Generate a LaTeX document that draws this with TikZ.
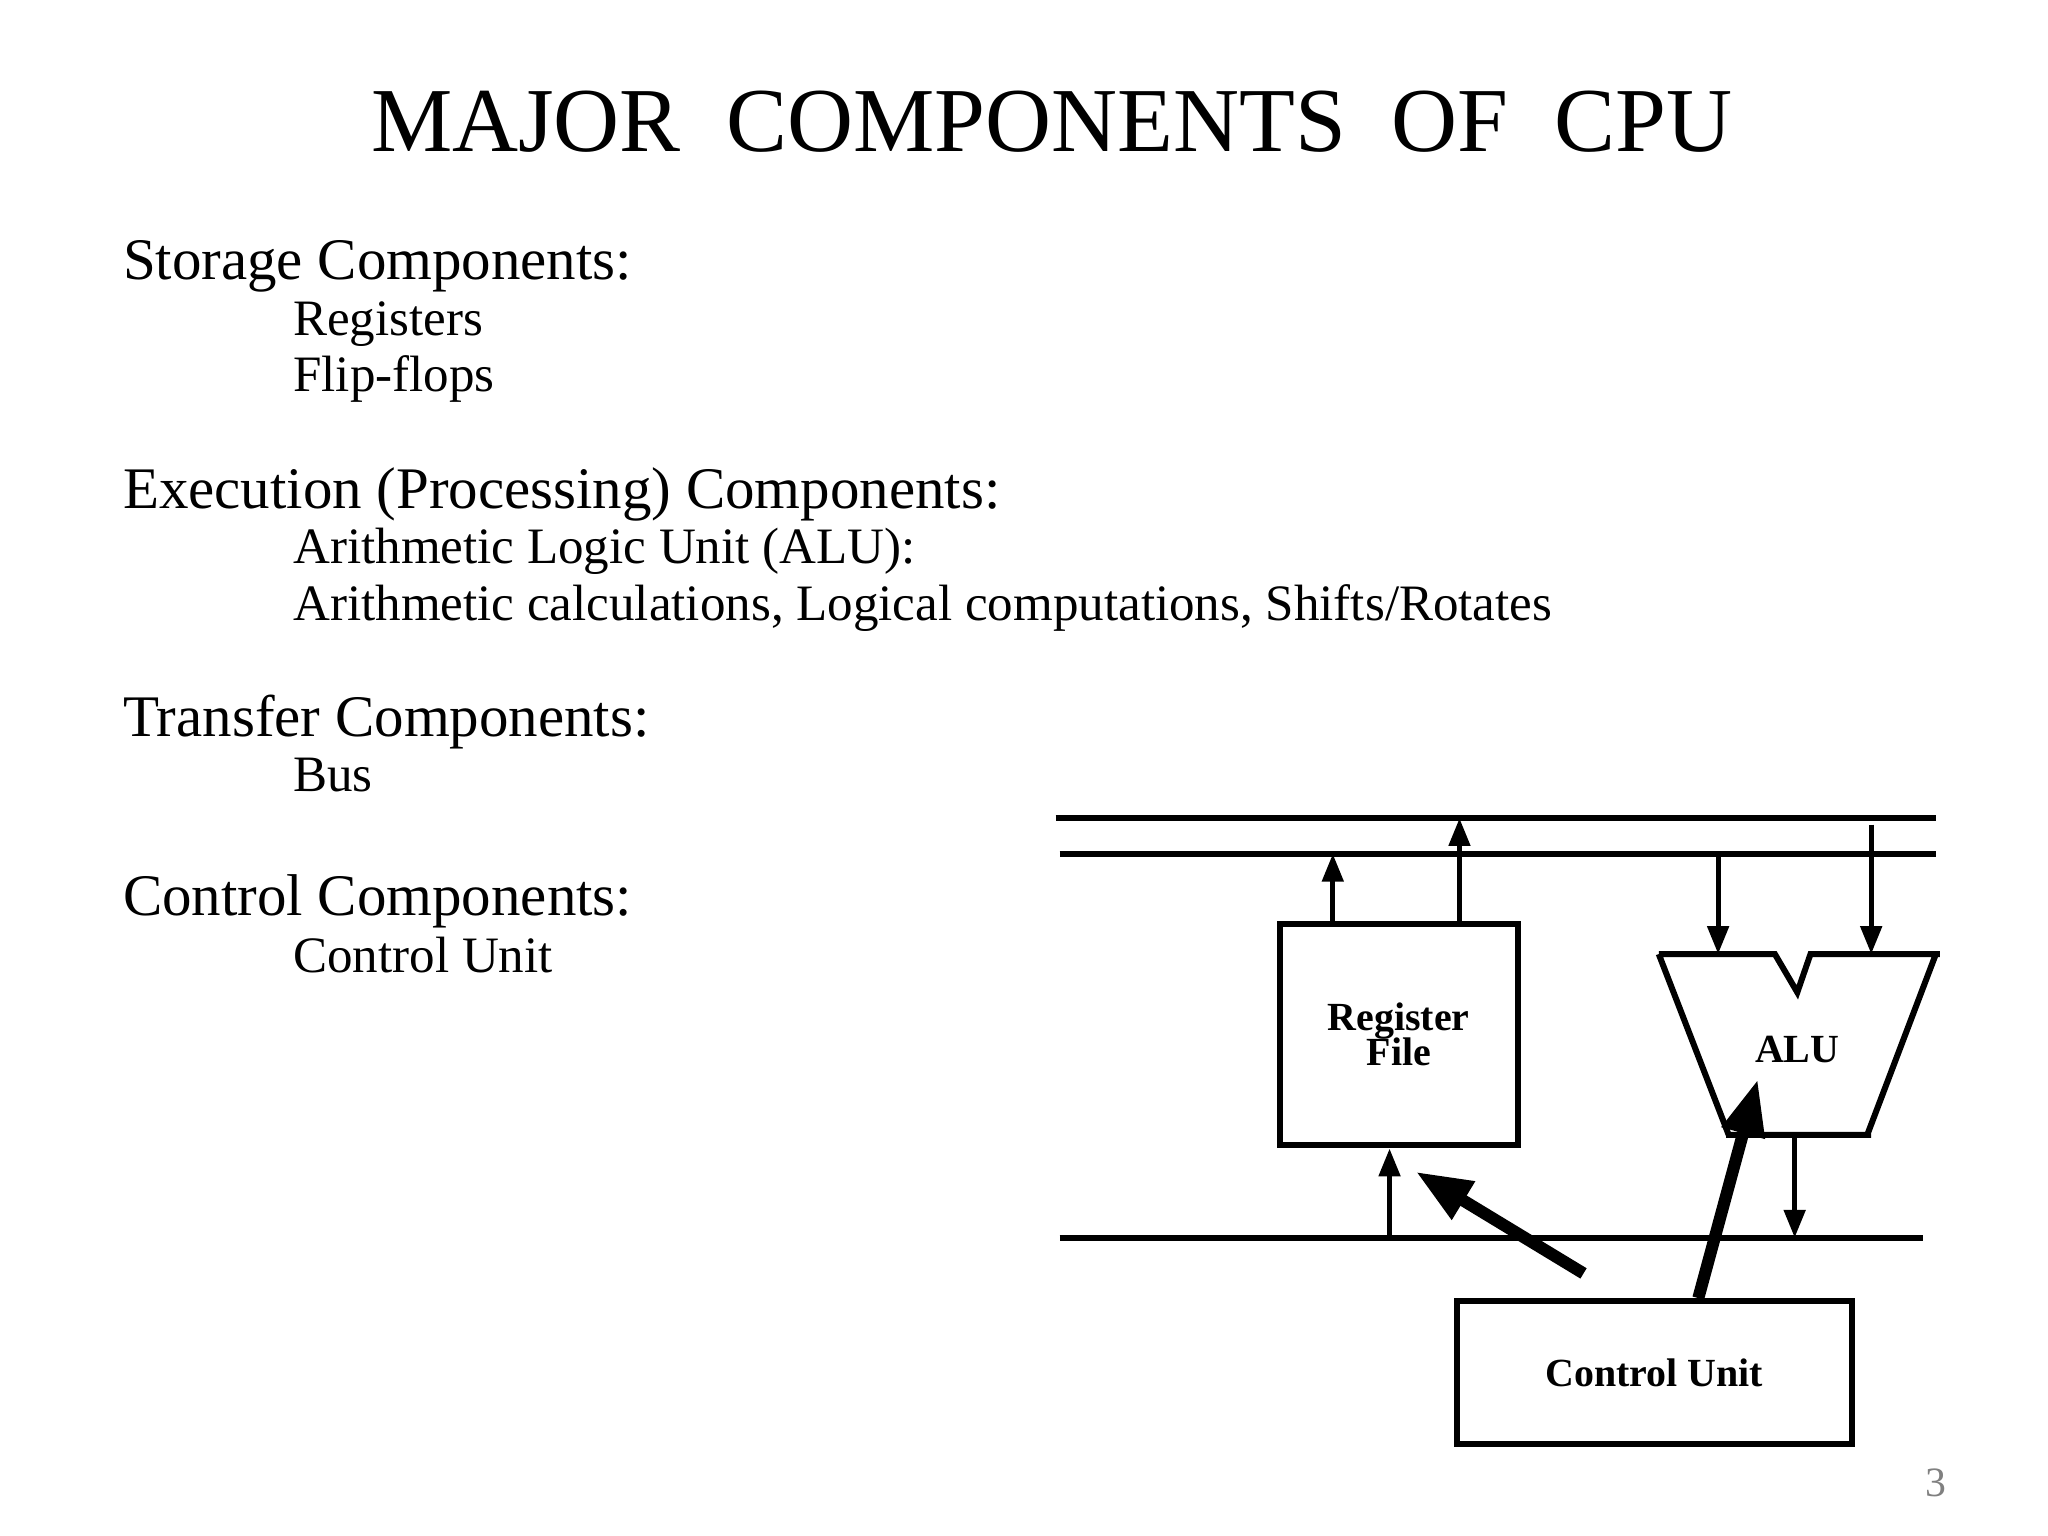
\documentclass[tikz,border=0pt]{standalone}
\usepackage{fontspec}
\setmainfont{Liberation Serif}
\usetikzlibrary{arrows.meta}

\begin{document}
\begin{tikzpicture}[x=0.01cm, y=-0.01cm, >={Triangle[length=6pt,width=4.5pt]},
  head/.style={anchor=base west, inner sep=1pt, font=\fontsize{12.7}{14}\selectfont},
  item/.style={anchor=base west, inner sep=1pt, font=\fontsize{11}{12}\selectfont},
  bus/.style={line width=1.3pt},
  wire/.style={line width=1.1pt},
  block/.style={draw, line width=1.3pt, font=\bfseries\fontsize{8.6}{9.5}\selectfont, align=center},
  ctrl/.style={->, line width=2.6pt, >={Triangle[length=12pt,width=9pt]}}]

\useasboundingbox (0,0) rectangle (1552,1164);

% Le titre et les textes
\node[anchor=base, font=\fontsize{19.7}{22}\selectfont] (title) at (797,115) {MAJOR\ \ COMPONENTS\ \ OF\ \ CPU};
\node[head] (h1) at (89,212) {Storage Components:};
\node[item] (i1) at (218,254) {Registers};
\node[item] (i2) at (218,297) {Flip-flops};
\node[head] (h2) at (89,385) {Execution (Processing) Components:};
\node[item] (i3) at (218,427) {Arithmetic Logic Unit (ALU):};
\node[item] (i4) at (218,470) {Arithmetic calculations, Logical computations, Shifts/Rotates};
\node[head] (h3) at (89,558) {Transfer Components:};
\node[item] (i5) at (218,600) {Bus};
\node[head] (h4) at (89,694) {Control Components:};
\node[item] (i6) at (218,737) {Control Unit};

% Les bus
\draw[bus] (800,620) -- (1467,620);
\draw[bus] (803,647) -- (1467,647);
\draw[bus] (803,938) -- (1457,938);

% Les blocs
\node[block, minimum width=1.8cm, minimum height=1.68cm] (RF) at (1060,784) {Register\\[-2pt]File};
\node[block, minimum width=2.99cm, minimum height=1.08cm] (CU) at (1253.5,1040) {Control Unit};
\draw[line width=1.3pt] (1257,723) -- (1345,723) -- (1362,752) -- (1372,723) -- (1470,723)
  (1467,723) -- (1415,860) (1418,860) -- (1308,860) (1310,860) -- (1257,723);
\node[font=\bfseries\fontsize{8.6}{9.5}\selectfont] (ALU) at (1362,795) {ALU};

% Les connexions avec les bus
\coordinate (b1) at (1010,647);
\coordinate (b2) at (1106,620);
\coordinate (b3) at (1053,938);
\coordinate (a1) at (1302,647);
\coordinate (a2) at (1418,625);
\coordinate (a3) at (1360,938);
\draw[->, wire] (RF.north -| b1) -- (b1);
\draw[->, wire] (RF.north -| b2) -- (b2);
\draw[->, wire] (b3) -- (RF.south -| b3);
\draw[->, wire] (a1) -- (1302,723);
\draw[->, wire] (a2) -- (1418,723);
\draw[->, wire] (1360,860) -- (a3);

% Les signaux de commande
\coordinate (c1) at (1200,965);
\draw[ctrl] (c1) -- (1073,888);
\draw[ctrl] (CU.north -| 1287,0) -- (1332,818);

\node[text=gray, font=\fontsize{9}{10}\selectfont] (page) at (1467,1124) {3};
\end{tikzpicture}
\end{document}
